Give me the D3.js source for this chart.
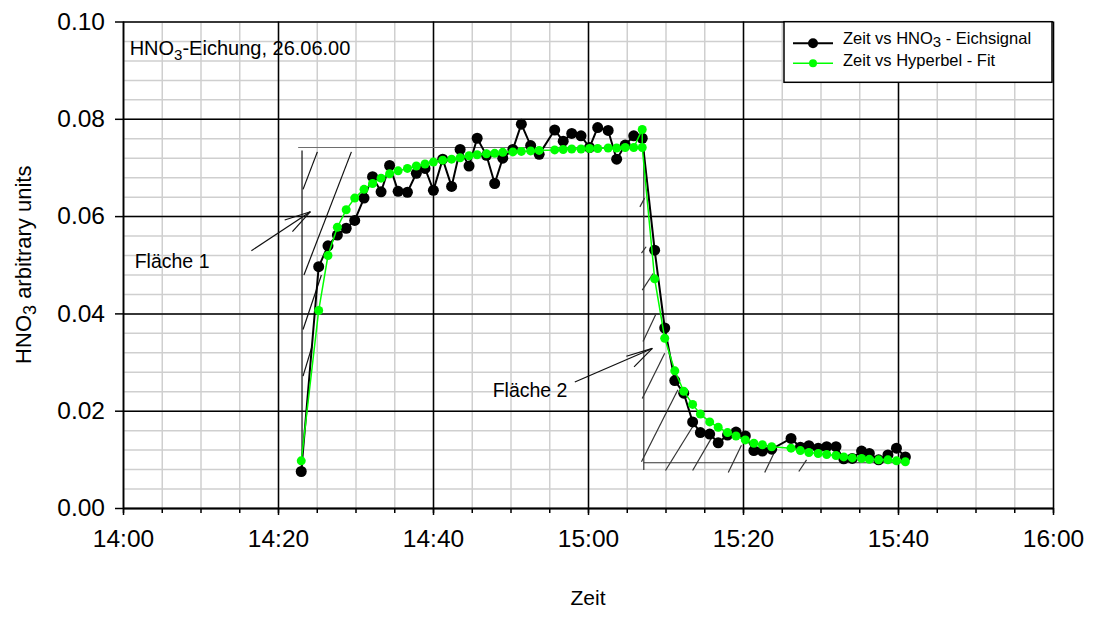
<!DOCTYPE html>
<html>
<head>
<meta charset="utf-8">
<script src="https://cdn.jsdelivr.net/npm/d3@7"></script>
<style>
    body { margin: 0; background: #fff; }
    svg { font-family: "Liberation Sans", Arial, sans-serif; }
</style>
</head>
<body>
<div id="chart"></div>
<script>
// minutes after 14:00 for every sample
const sampleMinutes = [23.0, 25.25, 26.45, 27.66, 28.8, 29.9, 31.1, 32.2, 33.3, 34.4, 35.5, 36.7, 37.85, 38.97,
    40.05, 41.25, 42.4, 43.5, 44.65, 45.7, 46.9, 47.96, 49.0, 50.3, 51.4, 52.6, 53.7, 55.7, 56.8, 57.9, 59.1,
    60.2, 61.25, 62.6, 63.7, 64.8, 65.9, 67.0, 68.6, 69.9, 71.2, 72.35, 73.5, 74.5, 75.7, 76.8, 78.0, 79.1,
    80.3, 81.4, 82.5, 83.7, 86.2, 87.4, 88.5, 89.7, 90.8, 92.0, 93.0, 94.1, 95.3, 96.3, 97.5, 98.7, 99.8, 100.95];

const eichsignal = [0.0075, 0.0496, 0.0539, 0.0561, 0.0575, 0.0591, 0.0637, 0.0681, 0.0650, 0.0704, 0.0651,
    0.0649, 0.0688, 0.0698, 0.0653, 0.0717, 0.0661, 0.0737, 0.0703, 0.0760, 0.0725, 0.0667, 0.0719, 0.0737,
    0.0789, 0.0745, 0.0727, 0.0777, 0.0754, 0.0770, 0.0765, 0.0741, 0.0782, 0.0776, 0.0717, 0.0746, 0.0765,
    0.0760, 0.0530, 0.0370, 0.0262, 0.0236, 0.0177, 0.0155, 0.0152, 0.0134, 0.0150, 0.0156, 0.0148, 0.0118,
    0.0117, 0.0121, 0.0143, 0.0125, 0.0128, 0.0123, 0.0126, 0.0126, 0.0101, 0.0102, 0.0117, 0.0112, 0.0099,
    0.0109, 0.0123, 0.0105];

// the fit has two points at 67.0 (end of rise fit, start of decay fit)
const fitMinutes = [23.0, 25.25, 26.45, 27.66, 28.8, 29.9, 31.1, 32.2, 33.3, 34.4, 35.5, 36.7, 37.85, 38.97,
    40.05, 41.25, 42.4, 43.5, 44.65, 45.7, 46.9, 47.96, 49.0, 50.3, 51.4, 52.6, 53.7, 55.7, 56.8, 57.9, 59.1,
    60.2, 61.25, 62.6, 63.7, 64.8, 65.9, 67.0, 67.0, 68.6, 69.9, 71.2, 72.35, 73.5, 74.5, 75.7, 76.8, 78.0, 79.1,
    80.3, 81.4, 82.5, 83.7, 86.2, 87.4, 88.5, 89.7, 90.8, 92.0, 93.0, 94.1, 95.3, 96.3, 97.5, 98.7, 99.8, 100.95];

const hyperbelFit = [0.0097, 0.0406, 0.0519, 0.0577, 0.0613, 0.0637, 0.0655, 0.0667, 0.0678, 0.0687, 0.0693,
    0.0698, 0.0703, 0.0707, 0.0711, 0.0715, 0.0717, 0.0720, 0.0724, 0.0726, 0.0728, 0.0729, 0.0731, 0.0732,
    0.0733, 0.0734, 0.0735, 0.0736, 0.0737, 0.0738, 0.0738, 0.0739, 0.0739, 0.0740, 0.0740, 0.0741, 0.0741,
    0.0778, 0.0741, 0.0471, 0.0349, 0.0282, 0.0240, 0.0213, 0.0193, 0.0177, 0.0166, 0.0155, 0.0148, 0.0140,
    0.0133, 0.0130, 0.0126, 0.0123, 0.0118, 0.0114, 0.0112, 0.0110, 0.0108, 0.0105, 0.0103, 0.0102, 0.0100,
    0.0099, 0.0099, 0.0097, 0.0095];

const yTicks = [0, 0.02, 0.04, 0.06, 0.08, 0.10];

// hand drawn area marks, [min1, value1, min2, value2]
const flaeche1Lines = [[22.6, 0.0741, 67.0, 0.0741], [23.1, 0.0735, 23.1, 0.0085],
    [23.23, 0.0655, 25.08, 0.0732], [23.35, 0.0479, 29.47, 0.0732], [23.23, 0.0367, 25.6, 0.0479],
    [23.23, 0.0271, 24.39, 0.0332]];
const flaeche1Arrow = [[16.57, 0.0529, 24.18, 0.0609], [20.86, 0.0592, 24.18, 0.0609], [21.86, 0.0568, 24.18, 0.0609]];
const flaeche2Lines = [[67.2, 0.0741, 67.2, 0.0078], [67.2, 0.0093, 101.1, 0.0093],
    [66.7, 0.0619, 67.3, 0.0637], [66.9, 0.0524, 67.5, 0.0537], [67.0, 0.0448, 68.4, 0.0482],
    [67.1, 0.0342, 68.8, 0.0400], [67.0, 0.0225, 69.9, 0.0318], [66.9, 0.0095, 71.6, 0.0243],
    [70.0, 0.0077, 73.5, 0.0167], [73.5, 0.0077, 76.3, 0.0154], [78.1, 0.0073, 79.8, 0.0129],
    [82.8, 0.0073, 84.3, 0.0123], [87.2, 0.0075, 88.2, 0.0099]];
const flaeche2Arrow = [[58.3, 0.0259, 68.3, 0.0328], [64.95, 0.0312, 68.3, 0.0328], [65.94, 0.0290, 68.3, 0.0328]];

const startTime = new Date(2000, 5, 26, 14, 0);
const toTime = m => new Date(startTime.getTime() + m * 60000);

const margin = { top: 21.5, right: 41, bottom: 113, left: 123 };
const containerWidth = 1094;
const containerHeight = 621;
const width = containerWidth - margin.left - margin.right;
const height = containerHeight - margin.top - margin.bottom;

const svg = d3.select('#chart')
    .append('svg')
    .attr('width', containerWidth)
    .attr('height', containerHeight);

const chart = svg.append('g')
    .attr('transform', `translate(${margin.left},${margin.top})`);

const xScale = d3.scaleTime()
    .domain([toTime(0), toTime(120)])
    .range([0, width]);

const yScale = d3.scaleLinear()
    .domain([0, 0.1])
    .range([height, 0]);

// minor grid first, then major grid on top
chart.append('g')
    .attr('class', 'grid minor-x')
    .attr('transform', `translate(0,${height})`)
    .call(d3.axisBottom(xScale).ticks(d3.timeMinute.every(5)).tickSize(-height).tickFormat(''))
    .call(g => g.select('.domain').remove())
    .call(g => g.selectAll('line').attr('stroke', '#cfcfcf').attr('stroke-width', 1.5));

chart.append('g')
    .attr('class', 'grid minor-y')
    .call(d3.axisLeft(yScale).tickValues(d3.range(0, 0.1001, 0.004)).tickSize(-width).tickFormat(''))
    .call(g => g.select('.domain').remove())
    .call(g => g.selectAll('line').attr('stroke', '#cfcfcf').attr('stroke-width', 1.5));

chart.append('g')
    .attr('class', 'grid major-x')
    .attr('transform', `translate(0,${height})`)
    .call(d3.axisBottom(xScale).ticks(d3.timeMinute.every(20)).tickSize(-height).tickFormat(''))
    .call(g => g.select('.domain').remove())
    .call(g => g.selectAll('line').attr('stroke', '#000').attr('stroke-width', 1.5));

chart.append('g')
    .attr('class', 'grid major-y')
    .call(d3.axisLeft(yScale).tickValues(yTicks).tickSize(-width).tickFormat(''))
    .call(g => g.select('.domain').remove())
    .call(g => g.selectAll('line').attr('stroke', '#000').attr('stroke-width', 1.5));

// axes with outside ticks
chart.append('g')
    .attr('class', 'axis x-minor')
    .attr('transform', `translate(0,${height})`)
    .call(d3.axisBottom(xScale).ticks(d3.timeMinute.every(5)).tickSize(5).tickFormat('').tickSizeOuter(0))
    .call(g => g.selectAll('line, path').attr('stroke', '#000').attr('stroke-width', 1.5));

chart.append('g')
    .attr('class', 'axis x-axis')
    .attr('transform', `translate(0,${height})`)
    .call(d3.axisBottom(xScale)
        .ticks(d3.timeMinute.every(20))
        .tickFormat(d3.timeFormat('%H:%M'))
        .tickSize(7)
        .tickPadding(15)
        .tickSizeOuter(0))
    .call(g => g.selectAll('line, path').attr('stroke', '#000').attr('stroke-width', 1.5))
    .call(g => g.selectAll('text').attr('font-size', 24.5).attr('font-family', null).attr('fill', '#000'));

chart.append('g')
    .attr('class', 'axis y-axis')
    .call(d3.axisLeft(yScale)
        .tickValues(yTicks)
        .tickFormat(d3.format('.2f'))
        .tickSize(8)
        .tickPadding(10)
        .tickSizeOuter(0))
    .call(g => g.selectAll('line, path').attr('stroke', '#000').attr('stroke-width', 1.5))
    .call(g => g.selectAll('text').attr('font-size', 24.5).attr('font-family', null).attr('fill', '#000'));

// area marks (Fläche 1 / Fläche 2)
const drawSegments = (segs, cls, color) => {
    chart.append('g')
        .attr('class', cls)
        .selectAll('line')
        .data(segs)
        .join('line')
        .attr('x1', d => xScale(toTime(d[0])))
        .attr('y1', d => yScale(d[1]))
        .attr('x2', d => xScale(toTime(d[2])))
        .attr('y2', d => yScale(d[3]))
        .attr('stroke', (d, i) => i === 0 && cls === 'flaeche1' ? '#6e6e6e' : color)
        .attr('stroke-width', 1.2);
};
drawSegments(flaeche1Lines, 'flaeche1', '#111');
drawSegments(flaeche1Arrow, 'flaeche1-arrow', '#111');
drawSegments(flaeche2Lines, 'flaeche2', '#333');
drawSegments(flaeche2Arrow, 'flaeche2-arrow', '#111');

chart.append('text')
    .attr('x', xScale(toTime(1.51)))
    .attr('y', yScale(0.0493))
    .attr('font-size', 19.5)
    .text('Fläche 1');

chart.append('text')
    .attr('x', xScale(toTime(47.7)))
    .attr('y', yScale(0.0228))
    .attr('font-size', 19.5)
    .text('Fläche 2');

const note = chart.append('text')
    .attr('x', xScale(toTime(0.86)))
    .attr('y', yScale(0.0931))
    .attr('font-size', 20);
note.append('tspan').text('HNO');
note.append('tspan').attr('font-size', 15).attr('dy', 5).text('3');
note.append('tspan').attr('dy', -5).text('-Eichung, 26.06.00');

// series
const signalData = d3.zip(sampleMinutes, eichsignal);
const fitData = d3.zip(fitMinutes, hyperbelFit);

const line = d3.line()
    .x(d => xScale(toTime(d[0])))
    .y(d => yScale(d[1]));

chart.append('path')
    .datum(signalData)
    .attr('fill', 'none')
    .attr('stroke', '#000')
    .attr('stroke-width', 2)
    .attr('d', line);

chart.selectAll('.signal-point')
    .data(signalData)
    .join('circle')
    .attr('class', 'signal-point')
    .attr('cx', d => xScale(toTime(d[0])))
    .attr('cy', d => yScale(d[1]))
    .attr('r', 5.5)
    .attr('fill', '#000');

chart.append('path')
    .datum(fitData)
    .attr('fill', 'none')
    .attr('stroke', '#00ff00')
    .attr('stroke-width', 1.5)
    .attr('d', line);

chart.selectAll('.fit-point')
    .data(fitData)
    .join('circle')
    .attr('class', 'fit-point')
    .attr('cx', d => xScale(toTime(d[0])))
    .attr('cy', d => yScale(d[1]))
    .attr('r', 4.5)
    .attr('fill', '#00ff00');

// axis titles
svg.append('text')
    .attr('x', margin.left + width / 2)
    .attr('y', 605)
    .attr('text-anchor', 'middle')
    .attr('font-size', 21)
    .text('Zeit');

const yTitle = svg.append('text')
    .attr('transform', `translate(31,${margin.top + height / 2}) rotate(-90)`)
    .attr('text-anchor', 'middle')
    .attr('font-size', 22);
yTitle.append('tspan').text('HNO');
yTitle.append('tspan').attr('font-size', 18).attr('dy', 5).text('3');
yTitle.append('tspan').attr('dy', -5).text(' arbitrary units');

// legend
const legend = svg.append('g')
    .attr('class', 'legend')
    .attr('transform', 'translate(784,21.7)');

legend.append('rect')
    .attr('width', 268)
    .attr('height', 60.6)
    .attr('fill', '#fff')
    .attr('stroke', '#000')
    .attr('stroke-width', 1.5);

const legendItems = [
    { color: '#000', r: 5, w: 2, label: ['Zeit vs HNO', '3', ' - Eichsignal'] },
    { color: '#00ff00', r: 4, w: 1.5, label: ['Zeit vs Hyperbel - Fit'] }
];

legendItems.forEach((item, i) => {
    const lineY = 21.6 + i * 20;
    legend.append('line')
        .attr('x1', 9).attr('x2', 49)
        .attr('y1', lineY).attr('y2', lineY)
        .attr('stroke', item.color)
        .attr('stroke-width', item.w);
    legend.append('circle')
        .attr('cx', 29)
        .attr('cy', lineY)
        .attr('r', item.r)
        .attr('fill', item.color);
    const t = legend.append('text')
        .attr('x', 59)
        .attr('y', 22.8 + i * 22)
        .attr('font-size', 16.5);
    t.append('tspan').text(item.label[0]);
    if (item.label.length > 1) {
        t.append('tspan').attr('font-size', 15).attr('dy', 3).text(item.label[1]);
        t.append('tspan').attr('dy', -3).text(item.label[2]);
    }
});
</script>
</body>
</html>
